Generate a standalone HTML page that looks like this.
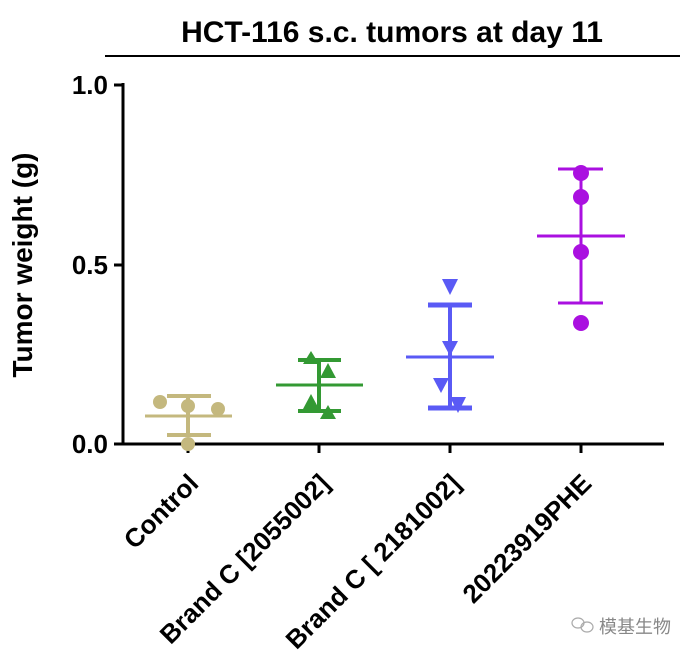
<!DOCTYPE html>
<html><head><meta charset="utf-8"><style>body{margin:0;background:#fff}svg{display:block}</style></head><body>
<svg width="689" height="656" xmlns="http://www.w3.org/2000/svg" font-family="Liberation Sans, Arial, sans-serif" font-weight="bold">
<text x="392" y="42" font-size="30" text-anchor="middle">HCT-116 s.c. tumors at day 11</text>
<line x1="105" y1="56" x2="680" y2="56" stroke="#000" stroke-width="2"/>
<g stroke="#000" stroke-width="3">
<line x1="123" y1="83" x2="123" y2="445"/>
<line x1="122" y1="444" x2="664" y2="444"/>
<line x1="114" y1="85" x2="123" y2="85"/>
<line x1="114" y1="265" x2="123" y2="265"/>
<line x1="114" y1="444" x2="123" y2="444"/>
<line x1="188" y1="444" x2="188" y2="453"/>
<line x1="319" y1="444" x2="319" y2="453"/>
<line x1="450" y1="444" x2="450" y2="453"/>
<line x1="581" y1="444" x2="581" y2="453"/>
</g>
<g font-size="26" text-anchor="end">
<text x="108" y="94">1.0</text><text x="108" y="274">0.5</text><text x="108" y="453">0.0</text>
</g>
<text transform="translate(32,265) rotate(-90)" font-size="28" text-anchor="middle">Tumor weight (g)</text>
<g font-size="26" text-anchor="end">
<text transform="translate(200,485) rotate(-45)">Control</text>
<text transform="translate(331,485) rotate(-45)">Brand C [2055002]</text>
<text transform="translate(462,485) rotate(-45)">Brand C [ 2181002]</text>
<text transform="translate(593,485) rotate(-45)">20223919PHE</text>
</g>
<g stroke="#c4b87e" stroke-width="4" fill="#c4b87e">
<line x1="188" y1="396" x2="188" y2="435"/>
<line x1="167" y1="396" x2="211" y2="396"/>
<line x1="167" y1="435" x2="211" y2="435"/>
<line x1="145" y1="416" x2="232" y2="416" stroke-width="3"/>
<g stroke="none"><circle cx="160" cy="402" r="7"/><circle cx="188" cy="406" r="7"/><circle cx="218" cy="409" r="7"/><circle cx="188" cy="444" r="7"/></g>
</g>
<g stroke="#339933" stroke-width="4" fill="#339933">
<line x1="319" y1="360" x2="319" y2="411"/>
<line x1="298" y1="360" x2="341" y2="360"/>
<line x1="298" y1="411" x2="341" y2="411"/>
<line x1="276" y1="385" x2="363" y2="385" stroke-width="3"/>
<g stroke="none">
<polygon points="311,351 303,364 319,364"/>
<polygon points="328,363 320,378 336,378"/>
<polygon points="311,394 303,409 319,409"/>
<polygon points="328,405 320,419 336,419"/>
</g></g>
<g stroke="#5a5af5" stroke-width="4" fill="#5a5af5">
<line x1="450" y1="305" x2="450" y2="408"/>
<line x1="428" y1="305" x2="472" y2="305" stroke-width="5"/>
<line x1="428" y1="408" x2="472" y2="408" stroke-width="5"/>
<line x1="406" y1="357" x2="494" y2="357" stroke-width="3"/>
<g stroke="none">
<polygon points="442,279 458,279 450,295"/>
<polygon points="442,341 458,341 450,356"/>
<polygon points="433,378 449,378 441,393"/>
<polygon points="450,397 466,397 458,413"/>
</g></g>
<g stroke="#aa10e0" stroke-width="3" fill="#aa10e0">
<line x1="581" y1="169" x2="581" y2="303"/>
<line x1="558" y1="169" x2="603" y2="169"/>
<line x1="558" y1="303" x2="603" y2="303"/>
<line x1="537" y1="236" x2="625" y2="236"/>
<g stroke="none"><circle cx="581" cy="173" r="8"/><circle cx="581" cy="197" r="8"/><circle cx="581" cy="252" r="8"/><circle cx="581" cy="323" r="8"/></g>
</g>
<g fill="none" stroke="#aaa" stroke-width="1.2"><ellipse cx="578" cy="623" rx="6" ry="5"/><ellipse cx="587" cy="627" rx="6" ry="5"/></g>
<text x="599" y="633" font-size="18" font-weight="normal" fill="#888" font-family="Liberation Sans, Noto Sans CJK SC, sans-serif">模基生物</text>
</svg>
</body></html>
